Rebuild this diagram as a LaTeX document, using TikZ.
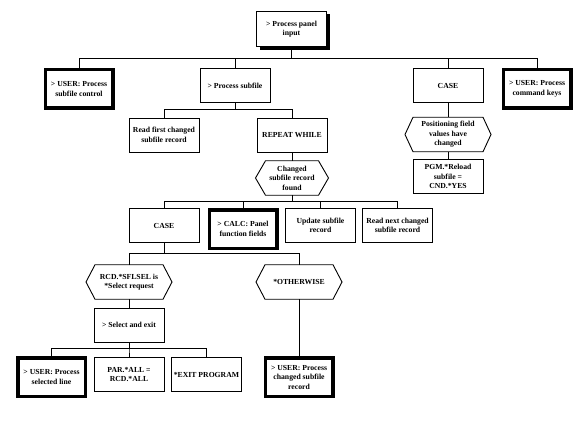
\documentclass[tikz,border=0pt]{standalone}
\usepackage{fontspec}
\setmainfont{Liberation Serif}
\newcommand\hexoutline[2]{\draw[conn] (#1.west) -- ([xshift=#2]#1.north west) -- ([xshift=-#2]#1.north east) -- (#1.east) -- ([xshift=-#2]#1.south east) -- ([xshift=#2]#1.south west) -- cycle;}
\begin{document}
\begin{tikzpicture}[x=1pt,y=-1pt,
 every node/.style={font=\fontsize{7.7}{9.5}\selectfont\bfseries, align=center, inner sep=1pt, outer sep=0pt},
 box/.style={draw, line width=0.9pt, minimum width=70pt, minimum height=34pt, fill=white},
 tbox/.style={draw, line width=3.5pt, minimum width=67.5pt, minimum height=38.5pt, fill=white},
 hexn/.style={minimum width=#1, minimum height=34.5pt},
 conn/.style={line width=0.9pt},
 shadowfill/.style={fill=black}]
\useasboundingbox (0,0) rectangle (580,425);

% level 0
\node[box, minimum height=35pt] (top) at (291.5,29) {> Process panel\\input};
\fill[shadowfill] ([xshift=3pt]top.south west) rectangle ([shift={(3.5,3.5)}]top.south east);
\fill[shadowfill] ([shift={(0,3)}]top.north east) rectangle ([shift={(3.5,3.5)}]top.south east);

% level 1
\node[tbox] (u1) at (79,89) {> USER: Process\\subfile control};
\node[box] (ps) at (235,85.5) {> Process subfile};
\node[box] (case1) at (448,85.5) {CASE};
\node[tbox] (u2) at (537,89) {> USER: Process\\command keys};

% under Process subfile
\node[box] (rf) at (164,135) {Read first changed\\subfile record};
\node[box] (rw) at (292,135) {REPEAT WHILE};
\node[hexn=73pt] (h1) at (292,178) {Changed\\subfile record\\found};
\hexoutline{h1}{10pt}

% under CASE (right)
\node[hexn=86pt] (hpos) at (448,134.5) {Positioning field\\values have\\changed};
\hexoutline{hpos}{8pt}
\node[box] (pgm) at (448,176.5) {PGM.*Reload\\subfile =\\CND.*YES};

% under REPEAT WHILE
\node[box] (case2) at (164,225.5) {CASE};
\node[tbox] (calc) at (243,229) {> CALC: Panel\\function fields};
\node[box] (upd) at (320.5,225.5) {Update subfile\\record};
\node[box] (rn) at (397.5,225.5) {Read next changed\\subfile record};

% under CASE (lower)
\node[hexn=86pt] (hrcd) at (129,282) {RCD.*SFLSEL is\\*Select request};
\hexoutline{hrcd}{9pt}
\node[hexn=86pt] (hoth) at (299,282) {*OTHERWISE};
\hexoutline{hoth}{9pt}
\node[box] (sel) at (129,325) {> Select and exit};

% bottom row
\node[tbox] (u3) at (51.5,377) {> USER: Process\\selected line};
\node[box] (par) at (129,374.5) {PAR.*ALL =\\RCD.*ALL};
\node[box] (ex) at (206.5,374.5) {*EXIT PROGRAM};
\node[tbox] (u4) at (299,377) {> USER: Process\\changed subfile\\record};

% bus coordinates
\coordinate (b1) at (0,58);
\coordinate (b2) at (0,109);
\coordinate (b3) at (0,201);
\coordinate (b4) at (0,253);
\coordinate (b5) at (0,348.5);

% connectors
\foreach \c in {u1,ps,case1,u2}
  \draw[conn] (top.south) -- (top.south |- b1) -| (\c.north);
\foreach \c in {rf,rw}
  \draw[conn] (ps.south) -- (ps.south |- b2) -| (\c.north);
\draw[conn] (rw.south) -- (h1.north);
\foreach \c in {case2,calc,upd,rn}
  \draw[conn] (h1.south) -- (h1.south |- b3) -| (\c.north);
\draw[conn] (case1.south) -- (hpos.north);
\draw[conn] (hpos.south) -- (pgm.north);
\foreach \c in {hrcd,hoth}
  \draw[conn] (case2.south) -- (case2.south |- b4) -| (\c.north);
\draw[conn] (hrcd.south) -- (sel.north);
\draw[conn] (hoth.south) -- (u4.north);
\foreach \c in {u3,par,ex}
  \draw[conn] (sel.south) -- (sel.south |- b5) -| (\c.north);
\end{tikzpicture}
\end{document}
